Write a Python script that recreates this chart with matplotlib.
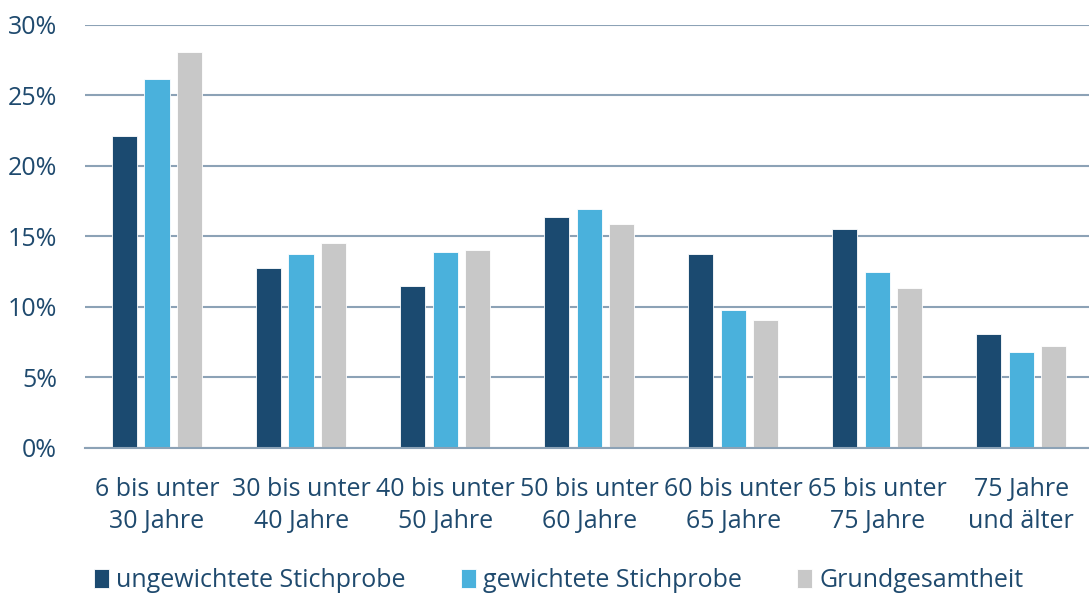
import numpy as np
import matplotlib

matplotlib.use("Agg")
import matplotlib.pyplot as plt

categories = [
    "6 bis unter\n30 Jahre",
    "30 bis unter\n40 Jahre",
    "40 bis unter\n50 Jahre",
    "50 bis unter\n60 Jahre",
    "60 bis unter\n65 Jahre",
    "65 bis unter\n75 Jahre",
    "75 Jahre\nund älter",
]
ungewichtet = [22.1, 12.75, 11.5, 16.4, 13.75, 15.5, 8.05]
gewichtet = [26.15, 13.75, 13.85, 16.95, 9.75, 12.45, 6.75]
grundgesamtheit = [28.1, 14.5, 14.05, 15.9, 9.05, 11.35, 7.2]
series_labels = ["ungewichtete Stichprobe", "gewichtete Stichprobe", "Grundgesamtheit"]
yticks = [0, 5, 10, 15, 20, 25, 30]

colors = ["#1B4A70", "#4AB1DC", "#C8C8C8"]
text_color = "#1F4A6E"
grid_color = "#8CA2B6"

plt.rcParams["font.family"] = ["Open Sans", "DejaVu Sans"]

fig = plt.figure(figsize=(10.89, 5.95), dpi=100)
ax = fig.add_axes([85 / 1089, 1 - 447.5 / 595, 1004 / 1089, 422.5 / 595])

x = np.arange(len(categories))
width = 0.175
step = 0.225
for i, (vals, lab) in enumerate(zip([ungewichtet, gewichtet, grundgesamtheit], series_labels)):
    ax.bar(x + (i - 1) * step, vals, width=width, color=colors[i], label=lab,
           edgecolor="white", linewidth=0.6, zorder=3)

ax.set_ylim(0, 30)
ax.set_xlim(-0.5, 6.47)
ax.set_yticks(yticks)
ax.set_yticklabels([f"{t}%" for t in yticks])
ax.yaxis.grid(True, color=grid_color, linewidth=1.5, zorder=0)
ax.set_axisbelow(True)
for side in ["top", "right", "left"]:
    ax.spines[side].set_visible(False)
ax.spines["bottom"].set_color(grid_color)
ax.spines["bottom"].set_linewidth(1.5)
ax.spines["bottom"].set_zorder(4)

ax.set_xticks(x)
ax.set_xticklabels(categories, linespacing=1.4)
ax.tick_params(axis="x", length=0, pad=21, labelsize=18, colors=text_color)
ax.tick_params(axis="y", length=0, pad=20, labelsize=18, colors=text_color)

fig.legend(loc="lower left", bbox_to_anchor=(71 / 1089, -0.035), ncol=3, frameon=False,
           fontsize=18, labelcolor=text_color, handlelength=0.6, handleheight=0.75,
           handletextpad=0.3, columnspacing=2.2)

fig.savefig("out.png", dpi=100)
